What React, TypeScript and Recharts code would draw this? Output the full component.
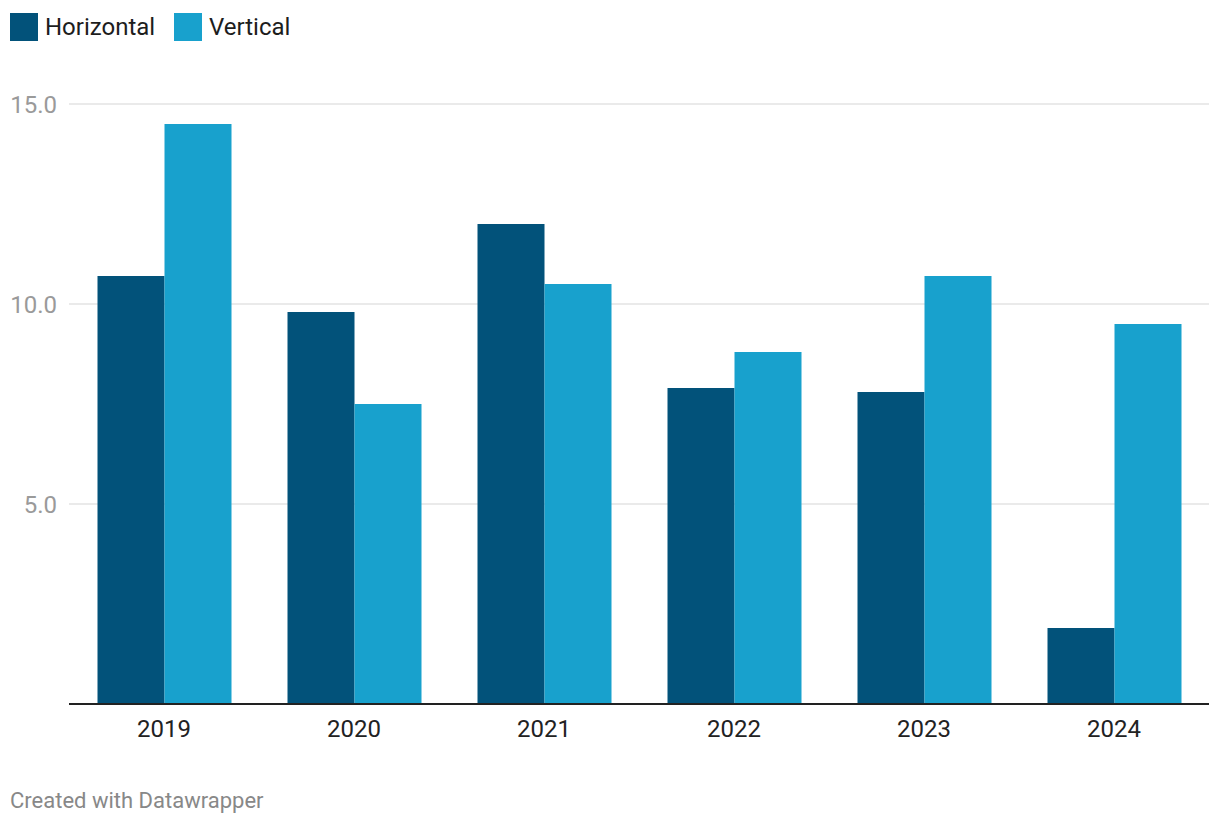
import React from "react";
import { BarChart, Bar, XAxis, YAxis, CartesianGrid } from "recharts";

const years = ["2019", "2020", "2021", "2022", "2023", "2024"];
const horizontal = [10.7, 9.8, 12.0, 7.9, 7.8, 1.9];
const vertical = [14.5, 7.5, 10.5, 8.8, 10.7, 9.5];
const yTicks = [5, 10, 15];
const seriesNames = ["Horizontal", "Vertical"];

const DARK = "#02527a";
const LIGHT = "#18a1cd";
const FONT = "Roboto, sans-serif";

const data = years.map((y, i) => ({ year: y, Horizontal: horizontal[i], Vertical: vertical[i] }));

const LegendBlock = () => (
  <div style={{ position: "absolute", left: 0, top: 0, width: 1220, height: 50, fontFamily: FONT }}>
    {seriesNames.map((name, i) => {
      const left = i === 0 ? 10 : 174;
      return (
        <div key={name} style={{ position: "absolute", left, top: 13, display: "flex", alignItems: "center" }}>
          <div style={{ width: 28, height: 28, background: i === 0 ? DARK : LIGHT }} />
          <span style={{ marginLeft: 7, fontSize: 24, color: "#1d1d1d", lineHeight: "28px" }}>{name}</span>
        </div>
      );
    })}
  </div>
);

export default function App() {
  return (
    <div style={{ position: "absolute", left: 0, top: 0, width: 1220, height: 826, background: "#fff", fontFamily: FONT }}>
      <BarChart
        width={1220}
        height={780}
        data={data}
        margin={{ top: 104, right: 11, left: 0, bottom: 0 }}
        barCategoryGap="15%"
        barGap={0}
      >
        <CartesianGrid vertical={false} stroke="#e3e3e3" strokeWidth={1.5} />
        <XAxis
          dataKey="year"
          height={76}
          tickLine={false}
          tickSize={0}
          tickMargin={16}
          axisLine={{ stroke: "#222", strokeWidth: 2 }}
          tick={{ fontSize: 24, fill: "#222", fontFamily: FONT }}
        />
        <YAxis
          width={69}
          domain={[0, 15]}
          ticks={yTicks}
          tickFormatter={(v: number) => v.toFixed(1)}
          axisLine={false}
          tickLine={false}
          tickSize={0}
          tickMargin={12}
          tick={{ fontSize: 24, fill: "#9a9a9a", fontFamily: FONT }}
        />
        <Bar dataKey="Horizontal" fill={DARK} isAnimationActive={false} />
        <Bar dataKey="Vertical" fill={LIGHT} isAnimationActive={false} />
      </BarChart>
      <LegendBlock />
      <div
        style={{
          position: "absolute",
          left: 10,
          top: 788,
          fontSize: 22,
          color: "#888",
          fontFamily: FONT,
        }}
      >
        Created with Datawrapper
      </div>
    </div>
  );
}
